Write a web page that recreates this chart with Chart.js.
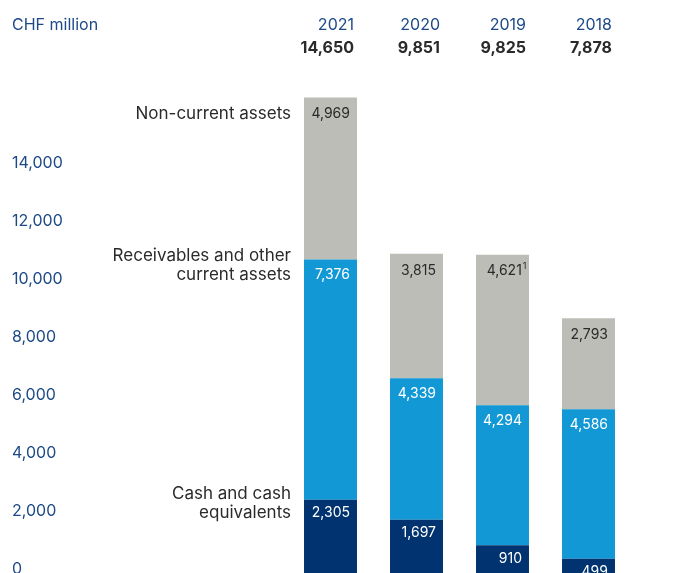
<!DOCTYPE html>
<html><head><meta charset="utf-8">
<script src="https://cdn.jsdelivr.net/npm/chart.js@4"></script>
<style>html,body{margin:0;padding:0;background:#fff;overflow:hidden}</style>
</head><body>
<canvas id="c" width="673" height="573"></canvas>
<script>
// ---- data ----
const years = ['2021', '2020', '2019', '2018'];
const totals = [14650, 9851, 9825, 7878];
const cashValues = [2305, 1697, 910, 499];
const receivablesValues = [7376, 4339, 4294, 4586];
const nonCurrentValues = [4969, 3815, 4621, 2793];
const nonCurrentNotes = ['', '', '1', ''];
const seriesNames = [['Cash and cash', 'equivalents'], ['Receivables and other', 'current assets'], ['Non-current assets']];
const axisTicks = [0, 2000, 4000, 6000, 8000, 10000, 12000, 14000];
const unitLabel = 'CHF million';

// ---- styles ----
const FONT = 'Inter, "Noto Sans", sans-serif';
const NAVY_TEXT = '#1d4a87';
const DARK_TEXT = '#2a2a2a';
const colors = ['#00336f', '#1398d6', '#bdbdb8'];
const labelStyles = [
  { color: '#ffffff', off: 13 },
  { color: '#ffffff', off: 15.5 },
  { color: DARK_TEXT, off: 16.5 }
];
const fmt = v => Number(v).toLocaleString('en-US');

const labelPlugin = {
  id: 'segLabels',
  afterDatasetsDraw(chart) {
    const ctx = chart.ctx;
    ctx.save();
    chart.data.datasets.forEach((ds, i) => {
      const meta = chart.getDatasetMeta(i);
      const st = labelStyles[i];
      meta.data.forEach((el, j) => {
        const p = el.getProps(['x', 'y', 'width'], true);
        const barRight = p.x + p.width / 2;
        const y = p.y + st.off;
        ctx.textBaseline = 'middle';
        ctx.fillStyle = st.color;
        const note = ds.notes ? ds.notes[j] : '';
        if (note) {
          ctx.font = '9px ' + FONT;
          const nw = ctx.measureText(note).width;
          ctx.textAlign = 'right';
          ctx.fillText(note, barRight - 2.5, y - 5);
          ctx.font = '14px ' + FONT;
          ctx.fillText(fmt(ds.data[j]), barRight - 3 - nw - 0.5, y);
        } else {
          ctx.font = '14px ' + FONT;
          ctx.textAlign = 'right';
          ctx.fillText(fmt(ds.data[j]), barRight - 7, y);
        }
      });
      // series names next to first bar
      const e0 = meta.data[0].getProps(['x', 'y', 'width'], true);
      const lines = seriesNames[i];
      ctx.font = '17px ' + FONT;
      ctx.fillStyle = DARK_TEXT;
      ctx.textAlign = 'right';
      ctx.textBaseline = 'middle';
      const xName = e0.x - e0.width / 2 - 13;
      const yLast = e0.y + st.off;
      lines.forEach((ln, k) => {
        ctx.fillText(ln, xName, yLast - (lines.length - 1 - k) * 18.5);
      });
    });
    ctx.restore();
  },
  afterDraw(chart) {
    const ctx = chart.ctx;
    ctx.save();
    const meta = chart.getDatasetMeta(0);
    ctx.textBaseline = 'middle';
    ctx.font = '16px ' + FONT;
    ctx.fillStyle = NAVY_TEXT;
    ctx.textAlign = 'left';
    ctx.fillText(unitLabel, 12, 25);
    meta.data.forEach((el, j) => {
      const p = el.getProps(['x', 'width'], true);
      const right = p.x + p.width / 2 - 3;
      ctx.textAlign = 'right';
      ctx.font = '16px ' + FONT;
      ctx.fillStyle = NAVY_TEXT;
      ctx.fillText(years[j], right, 25);
      ctx.font = 'bold 16px ' + FONT;
      ctx.fillStyle = DARK_TEXT;
      ctx.fillText(fmt(totals[j]), right, 48);
    });
    ctx.restore();
  }
};

new Chart(document.getElementById('c'), {
  type: 'bar',
  data: {
    labels: years,
    datasets: [
      { label: seriesNames[0].join(' '), data: cashValues, backgroundColor: colors[0] },
      { label: seriesNames[1].join(' '), data: receivablesValues, backgroundColor: colors[1] },
      { label: seriesNames[2].join(' '), data: nonCurrentValues, backgroundColor: colors[2], notes: nonCurrentNotes }
    ]
  },
  options: {
    responsive: false,
    animation: false,
    devicePixelRatio: 1,
    layout: { padding: { top: 60, bottom: 0, left: 12, right: 41.5 } },
    datasets: { bar: { barPercentage: 0.616, categoryPercentage: 1, borderWidth: 0 } },
    plugins: { legend: { display: false }, tooltip: { enabled: false } },
    scales: {
      x: { display: false, stacked: true, offset: true, grid: { display: false } },
      y: { display: false, stacked: true, min: 61, max: 15797 },
      yt: {
        position: 'left',
        min: -138,
        max: 17576,
        grid: { display: false },
        border: { display: false },
        afterBuildTicks: s => { s.ticks = axisTicks.map(v => ({ value: v })); },
        afterFit: s => { s.width = 275.5; s.paddingTop = 0; s.paddingBottom = 0; },
        ticks: {
          crossAlign: 'far',
          padding: 0,
          autoSkip: false,
          color: NAVY_TEXT,
          font: { family: FONT, size: 16 },
          callback: v => fmt(v)
        }
      }
    }
  },
  plugins: [labelPlugin]
});
</script>
</body></html>
